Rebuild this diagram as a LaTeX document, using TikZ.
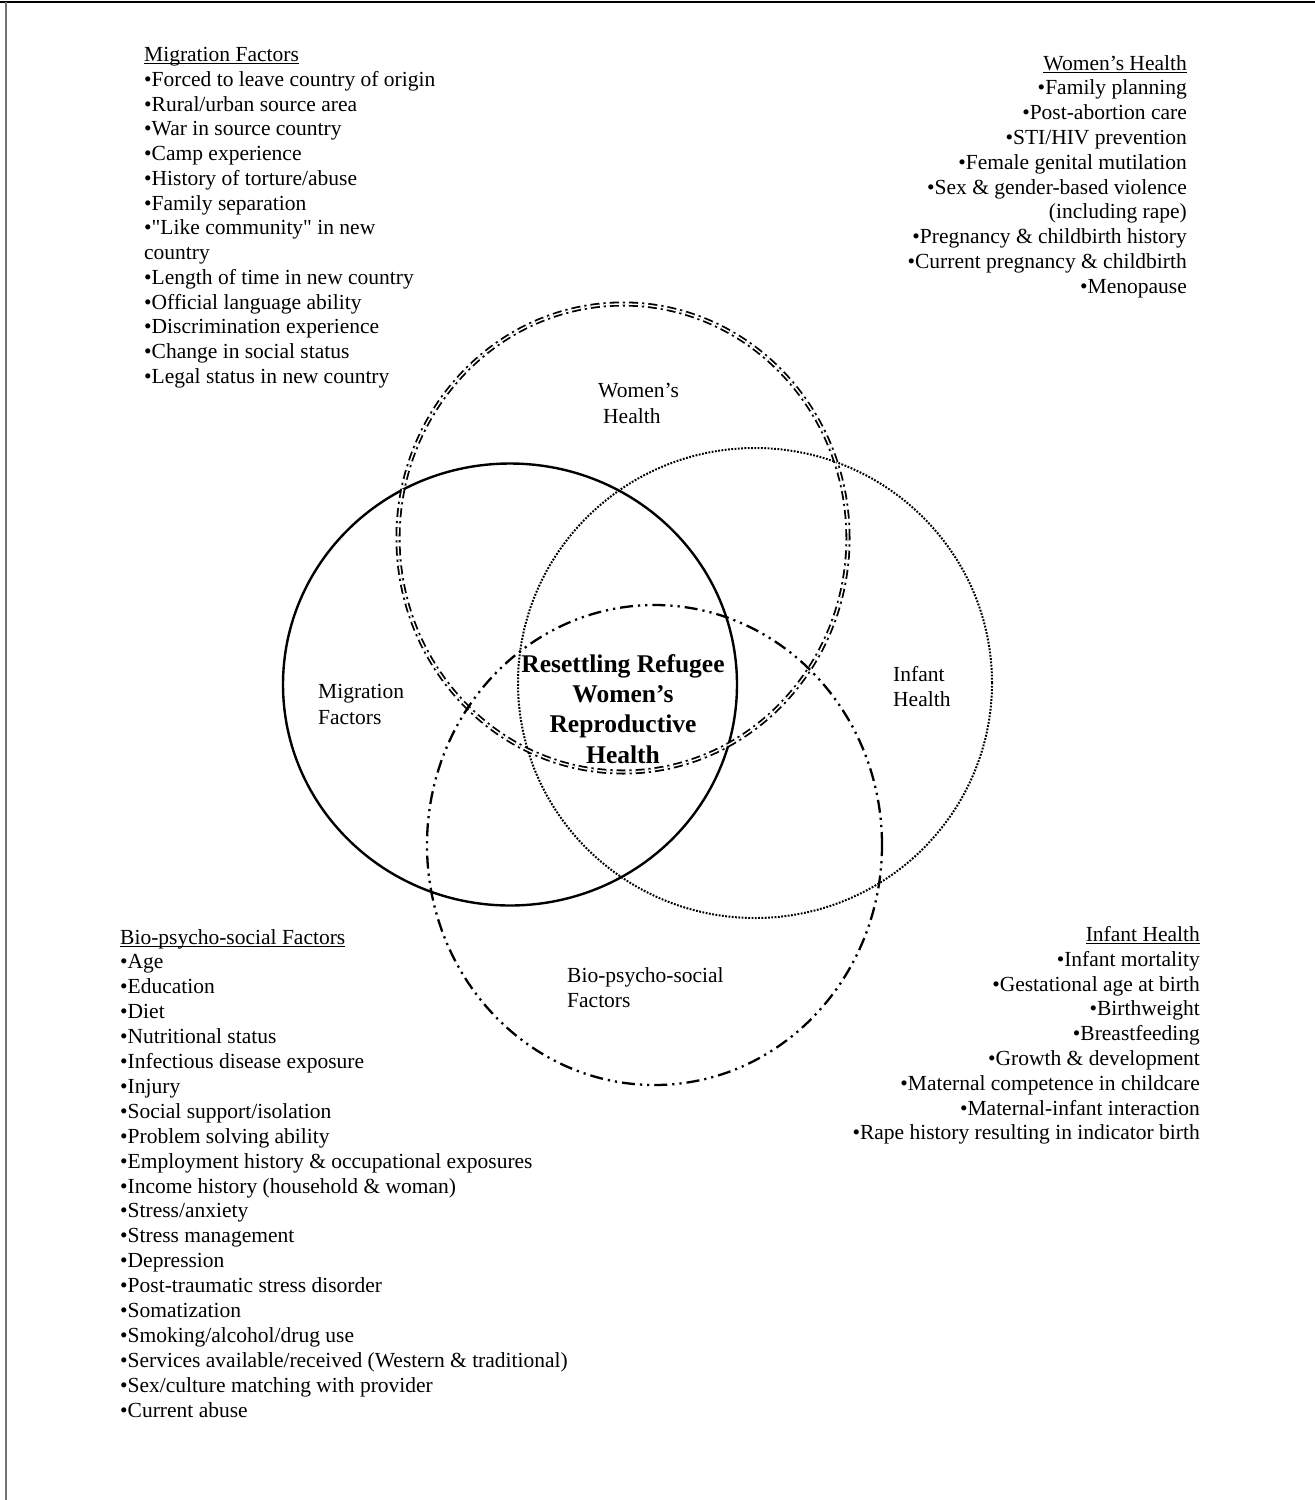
\documentclass[tikz,border=0pt]{standalone}
\usepackage{fontspec}
\setmainfont{Liberation Serif}
\newfontfamily\nomapfont[Ligatures=TeXOff]{Liberation Serif}
\newcommand\myul[1]{\setbox0\hbox{#1}\rlap{\rule[-2.6pt]{\wd0}{1.1pt}}#1}
\newcommand\sq{{\nomapfont\symbol{34}}}
\begin{document}
\begin{tikzpicture}[x=1pt,y=-1pt,
  lbl/.style={font=\fontsize{21.5}{24.8}\selectfont, inner sep=0pt},
  ttl/.style={font=\fontsize{25.5}{30}\selectfont\bfseries, inner sep=0pt, anchor=base},
  solidc/.style={line width=2.4pt},
  dotc/.style={line width=2pt, dash pattern=on 1.8pt off 1.5pt},
  dblc/.style={line width=1.8pt, double, double distance=1.4pt, dash pattern=on 9pt off 4pt on 2.2pt off 4pt},
  ddotc/.style={line width=2.3pt, dash pattern=on 13pt off 5pt on 2.2pt off 5pt on 2.2pt off 5pt}]
\useasboundingbox (0,0) rectangle (1315,1500);
\fill[white] (0,0) rectangle (1315,1500);
% frame
\draw[line width=1.3pt] (0,2) -- (1315,2);
\draw[line width=2pt, black!55] (6,2) -- (6,1500);
% circles
\draw[solidc] (510,684.5) ellipse [x radius=227pt, y radius=221pt];
\draw[dotc] (755,683) ellipse [x radius=237pt, y radius=235pt];
\draw[dblc] (623,538) ellipse [x radius=225pt, y radius=234pt];
\draw[ddotc] (654.5,845) ellipse [x radius=227.5pt, y radius=240pt];
% circle labels
\node[lbl, anchor=base west] (wh1) at (598,397) {Women's};
\node[lbl, anchor=base west] (wh2) at (603,423) {Health};
\node[lbl, anchor=base west] (mf1) at (318,698) {Migration};
\node[lbl, anchor=base west] (mf2) at (318,724) {Factors};
\node[lbl, anchor=base west] (ih1) at (893,681) {Infant};
\node[lbl, anchor=base west] (ih2) at (893,706) {Health};
\node[lbl, anchor=base west] (bp1) at (567,982) {Bio-psycho-social};
\node[lbl, anchor=base west] (bp2) at (567,1007) {Factors};
% centre title
\node[ttl] (c1) at (623,672.7) {Resettling Refugee};
\node[ttl] (c2) at (623,702.5) {Women's};
\node[ttl] (c3) at (623,732.5) {Reproductive};
\node[ttl] (c4) at (623,763) {Health};
% lists
\foreach \t [count=\i from 0] in {\myul{Migration Factors},•Forced to leave country of origin,•Rural/urban source area,•War in source country,•Camp experience,•History of torture/abuse,•Family separation,•\sq Like community\sq{} in new,country,•Length of time in new country,•Official language ability,•Discrimination experience,•Change in social status,•Legal status in new country}
  \node[lbl, anchor=base west] (mig\i) at (144,61.5+24.75*\i) {\t};
\foreach \t [count=\i from 0] in {\myul{Women's Health},•Family planning,•Post-abortion care,•STI/HIV prevention,•Female genital mutilation,•Sex \& gender-based violence,(including rape),•Pregnancy \& childbirth history,•Current pregnancy \& childbirth,•Menopause}
  \node[lbl, anchor=base east] (wom\i) at (1187,70+24.8*\i) {\t};
\foreach \t [count=\i from 0] in {\myul{Infant Health},•Infant mortality,•Gestational age at birth,•Birthweight,•Breastfeeding,•Growth \& development,•Maternal competence in childcare,•Maternal-infant interaction,•Rape history resulting in indicator birth}
  \node[lbl, anchor=base east] (inf\i) at (1200,941.5+24.8*\i) {\t};
\foreach \t [count=\i from 0] in {\myul{Bio-psycho-social Factors},•Age,•Education,•Diet,•Nutritional status,•Infectious disease exposure,•Injury,•Social support/isolation,•Problem solving ability,•Employment history \& occupational exposures,•Income history (household \& woman),•Stress/anxiety,•Stress management,•Depression,•Post-traumatic stress disorder,•Somatization,•Smoking/alcohol/drug use,•Services available/received (Western \& traditional),•Sex/culture matching with provider,•Current abuse}
  \node[lbl, anchor=base west] (bio\i) at (120,944+24.9*\i) {\t};
\end{tikzpicture}
\end{document}
